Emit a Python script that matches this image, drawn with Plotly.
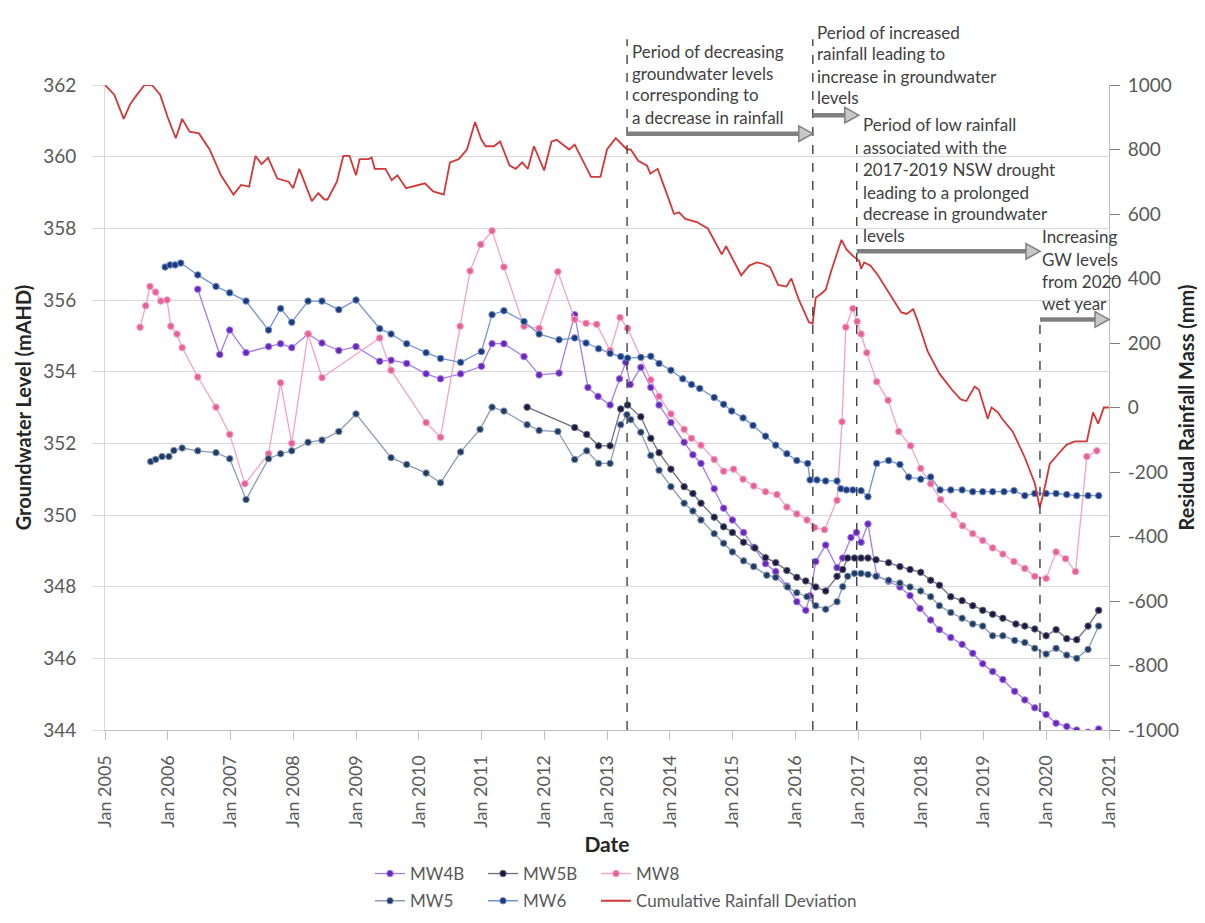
import plotly.graph_objects as go
import pandas as pd

# ---------------- data (decimal years) ----------------
mw4b_t = [2006.48, 2006.83, 2006.99, 2007.25, 2007.61, 2007.80, 2007.98, 2008.24, 2008.46, 2008.73,
          2009.00, 2009.38, 2009.56, 2009.81, 2010.12, 2010.35, 2010.67, 2011.00, 2011.17, 2011.36,
          2011.68, 2011.92, 2012.24, 2012.49, 2012.70, 2012.86, 2013.05, 2013.20, 2013.30, 2013.37,
          2013.54, 2013.70, 2013.83, 2014.02, 2014.23, 2014.37, 2014.50, 2014.71, 2014.86, 2015.00,
          2015.18, 2015.34, 2015.53, 2015.69, 2015.87, 2016.03, 2016.17, 2016.24, 2016.33, 2016.49,
          2016.67, 2016.76, 2016.89, 2016.98, 2017.05, 2017.16, 2017.30, 2017.49, 2017.67, 2017.83,
          2017.99, 2018.16, 2018.30, 2018.48, 2018.66, 2018.83, 2018.99, 2019.15, 2019.31, 2019.50,
          2019.66, 2019.82, 2020.00, 2020.16, 2020.33, 2020.49, 2020.67, 2020.84]
mw4b_v = [356.30, 354.48, 355.16, 354.53, 354.70, 354.78, 354.67, 355.05, 354.80, 354.59,
          354.70, 354.29, 354.32, 354.23, 353.94, 353.80, 353.94, 354.15, 354.78, 354.78,
          354.42, 353.91, 353.96, 355.59, 353.56, 353.31, 353.07, 353.80, 354.26, 353.64,
          354.12, 353.56, 353.07, 352.58, 352.03, 351.68, 351.44, 350.73, 350.19, 349.86,
          349.51, 349.10, 348.64, 348.42, 348.02, 347.58, 347.34, 347.75, 348.70, 349.16,
          348.53, 348.80, 349.37, 349.51, 349.24, 349.75, 348.30, 348.15, 347.99, 347.75,
          347.39, 347.07, 346.80, 346.58, 346.39, 346.14, 345.85, 345.63, 345.41, 345.08,
          344.84, 344.62, 344.43, 344.19, 344.10, 344.00, 343.94, 344.03]

mw5b_t = [2011.73, 2012.49, 2012.68, 2012.87, 2013.05, 2013.22, 2013.33, 2013.54, 2013.70, 2013.83,
          2014.02, 2014.23, 2014.37, 2014.50, 2014.71, 2014.86, 2015.00, 2015.18, 2015.36, 2015.53,
          2015.69, 2015.87, 2016.03, 2016.17, 2016.33, 2016.49, 2016.67, 2016.76, 2016.84, 2016.95,
          2017.05, 2017.16, 2017.29, 2017.49, 2017.67, 2017.83, 2018.00, 2018.16, 2018.30, 2018.48,
          2018.66, 2018.83, 2018.99, 2019.15, 2019.31, 2019.52, 2019.66, 2019.82, 2020.00, 2020.16,
          2020.33, 2020.49, 2020.67, 2020.84]
mw5b_v = [353.01, 352.44, 352.25, 351.93, 351.93, 352.96, 353.07, 352.74, 352.14, 351.74,
          351.28, 350.79, 350.60, 350.33, 349.94, 349.67, 349.51, 349.24, 349.08, 348.81,
          348.67, 348.45, 348.26, 348.16, 347.99, 347.88, 348.29, 348.48, 348.80, 348.80,
          348.80, 348.80, 348.75, 348.67, 348.56, 348.48, 348.40, 348.18, 348.04, 347.72,
          347.61, 347.47, 347.34, 347.23, 347.12, 346.96, 346.90, 346.82, 346.63, 346.80,
          346.55, 346.52, 346.90, 347.34]

mw8_t = [2005.56, 2005.65, 2005.72, 2005.81, 2005.89, 2005.99, 2006.05, 2006.15, 2006.23, 2006.48,
         2006.77, 2006.99, 2007.23, 2007.61, 2007.80, 2007.98, 2008.24, 2008.46, 2009.38, 2009.56,
         2010.12, 2010.35, 2010.66, 2010.82, 2010.99, 2011.17, 2011.36, 2011.68, 2011.92, 2012.22,
         2012.49, 2012.67, 2012.84, 2013.05, 2013.21, 2013.33, 2013.70, 2013.83, 2014.02, 2014.23,
         2014.35, 2014.50, 2014.71, 2014.86, 2015.02, 2015.17, 2015.34, 2015.53, 2015.71, 2015.87,
         2016.03, 2016.19, 2016.31, 2016.47, 2016.67, 2016.75, 2016.81, 2016.92, 2016.99, 2017.05,
         2017.14, 2017.30, 2017.48, 2017.65, 2017.84, 2018.00, 2018.16, 2018.32, 2018.53, 2018.67,
         2018.83, 2018.99, 2019.15, 2019.31, 2019.49, 2019.66, 2019.82, 2020.00, 2020.16, 2020.31,
         2020.47, 2020.65, 2020.81]
mw8_v = [355.24, 355.84, 356.38, 356.22, 355.97, 356.00, 355.27, 355.05, 354.67, 353.85,
         353.01, 352.25, 350.87, 351.71, 353.69, 352.00, 355.05, 353.83, 354.94, 354.04,
         352.58, 352.17, 355.27, 356.81, 357.55, 357.93, 356.92, 355.27, 355.21, 356.79,
         355.46, 355.35, 355.32, 354.59, 355.51, 355.21, 353.77, 353.31, 352.82, 352.39,
         352.14, 351.95, 351.55, 351.22, 351.28, 351.00, 350.81, 350.65, 350.57, 350.22,
         350.03, 349.86, 349.65, 349.59, 350.41, 352.60, 355.24, 355.76, 355.40, 355.05,
         354.53, 353.72, 353.20, 352.33, 351.93, 351.30, 350.87, 350.43, 350.00, 349.70,
         349.48, 349.29, 349.08, 348.91, 348.70, 348.51, 348.29, 348.23, 348.97, 348.78,
         348.42, 351.63, 351.79]

mw5_t = [2005.73, 2005.81, 2005.91, 2006.02, 2006.10, 2006.23, 2006.48, 2006.77, 2006.99, 2007.25,
         2007.61, 2007.80, 2007.98, 2008.24, 2008.46, 2008.73, 2009.00, 2009.56, 2009.81, 2010.12,
         2010.35, 2010.67, 2010.98, 2011.17, 2011.36, 2011.73, 2011.92, 2012.22, 2012.49, 2012.68,
         2012.87, 2013.05, 2013.22, 2013.32, 2013.38, 2013.54, 2013.70, 2013.83, 2014.02, 2014.23,
         2014.37, 2014.50, 2014.71, 2014.86, 2015.00, 2015.18, 2015.34, 2015.55, 2015.69, 2015.88,
         2016.03, 2016.19, 2016.33, 2016.49, 2016.67, 2016.76, 2016.84, 2016.95, 2017.05, 2017.16,
         2017.29, 2017.49, 2017.67, 2017.83, 2018.00, 2018.16, 2018.30, 2018.48, 2018.66, 2018.83,
         2018.99, 2019.15, 2019.31, 2019.50, 2019.66, 2019.82, 2020.00, 2020.16, 2020.33, 2020.49,
         2020.67, 2020.84]
mw5_v = [351.49, 351.55, 351.63, 351.63, 351.80, 351.87, 351.79, 351.74, 351.57, 350.43,
         351.57, 351.71, 351.79, 352.03, 352.09, 352.33, 352.82, 351.60, 351.41, 351.17,
         350.90, 351.76, 352.39, 353.01, 352.90, 352.52, 352.36, 352.33, 351.55, 351.79,
         351.44, 351.44, 352.52, 352.80, 352.66, 352.31, 351.66, 351.25, 350.79, 350.33,
         350.11, 349.86, 349.48, 349.21, 348.97, 348.72, 348.56, 348.32, 348.26, 347.99,
         347.83, 347.72, 347.47, 347.37, 347.58, 348.00, 348.29, 348.37, 348.37, 348.34,
         348.29, 348.18, 348.10, 347.99, 347.88, 347.72, 347.47, 347.28, 347.12, 346.96,
         346.90, 346.63, 346.63, 346.50, 346.44, 346.28, 346.12, 346.28, 346.09, 346.00,
         346.25, 346.90]

mw6_t = [2005.96, 2006.04, 2006.12, 2006.21, 2006.48, 2006.77, 2006.99, 2007.25, 2007.61, 2007.80,
         2007.98, 2008.24, 2008.46, 2008.73, 2009.00, 2009.38, 2009.56, 2009.81, 2010.12, 2010.35,
         2010.67, 2011.00, 2011.17, 2011.36, 2011.68, 2011.92, 2012.24, 2012.49, 2012.67, 2012.87,
         2013.05, 2013.22, 2013.33, 2013.54, 2013.70, 2013.83, 2014.02, 2014.21, 2014.35, 2014.48,
         2014.71, 2014.86, 2014.99, 2015.17, 2015.33, 2015.53, 2015.69, 2015.87, 2016.03, 2016.20,
         2016.24, 2016.35, 2016.49, 2016.67, 2016.73, 2016.82, 2016.92, 2017.05, 2017.16, 2017.30,
         2017.49, 2017.67, 2017.81, 2018.00, 2018.16, 2018.31, 2018.48, 2018.66, 2018.83, 2018.99,
         2019.15, 2019.33, 2019.49, 2019.66, 2019.82, 2020.00, 2020.16, 2020.33, 2020.49, 2020.67,
         2020.84]
mw6_v = [356.92, 356.98, 356.98, 357.03, 356.70, 356.38, 356.20, 355.97, 355.16, 355.76,
         355.38, 355.97, 355.97, 355.73, 356.00, 355.20, 355.05, 354.78, 354.53, 354.37,
         354.26, 354.56, 355.59, 355.70, 355.40, 355.05, 354.89, 354.94, 354.80, 354.64,
         354.51, 354.42, 354.38, 354.40, 354.43, 354.23, 354.04, 353.80, 353.64, 353.53,
         353.28, 353.09, 352.90, 352.71, 352.50, 352.20, 351.95, 351.71, 351.52, 351.44,
         350.98, 350.98, 350.95, 350.95, 350.73, 350.70, 350.70, 350.68, 350.51, 351.44,
         351.52, 351.41, 351.06, 351.00, 351.06, 350.70, 350.70, 350.70, 350.65, 350.65,
         350.65, 350.65, 350.68, 350.54, 350.60, 350.60, 350.60, 350.57, 350.54, 350.54,
         350.54]

rain_t = [2005.00, 2005.15, 2005.30, 2005.40, 2005.50, 2005.63, 2005.75, 2005.88, 2006.00, 2006.13,
          2006.23, 2006.35, 2006.50, 2006.67, 2006.85, 2007.05, 2007.17, 2007.30, 2007.40, 2007.50,
          2007.60, 2007.75, 2007.93, 2008.00, 2008.10, 2008.30, 2008.40, 2008.50, 2008.55, 2008.70,
          2008.80, 2008.90, 2009.00, 2009.06, 2009.20, 2009.25, 2009.30, 2009.47, 2009.57, 2009.66,
          2009.80, 2010.00, 2010.10, 2010.23, 2010.40, 2010.50, 2010.64, 2010.77, 2010.90, 2011.00,
          2011.07, 2011.20, 2011.30, 2011.45, 2011.55, 2011.65, 2011.74, 2011.84, 2012.00, 2012.12,
          2012.20, 2012.40, 2012.49, 2012.75, 2012.90, 2013.00, 2013.14, 2013.32, 2013.38, 2013.50,
          2013.64, 2013.69, 2013.81, 2013.94, 2014.07, 2014.15, 2014.25, 2014.43, 2014.61, 2014.83,
          2014.90, 2015.14, 2015.27, 2015.39, 2015.50, 2015.60, 2015.73, 2015.86, 2015.94, 2016.06,
          2016.22, 2016.28, 2016.33, 2016.43, 2016.49, 2016.58, 2016.68, 2016.74, 2016.82, 2016.92,
          2017.02, 2017.05, 2017.10, 2017.20, 2017.32, 2017.45, 2017.57, 2017.69, 2017.78, 2017.88,
          2017.94, 2018.11, 2018.30, 2018.50, 2018.64, 2018.73, 2018.86, 2018.93, 2019.07, 2019.13,
          2019.23, 2019.30, 2019.47, 2019.66, 2019.82, 2019.90, 2019.96, 2020.06, 2020.19, 2020.33,
          2020.46, 2020.65, 2020.75, 2020.83, 2020.92, 2021.00]
rain_v = [1000, 970, 895, 940, 967, 1000, 1000, 970, 900, 835,
          895, 855, 850, 800, 720, 660, 690, 685, 780, 755,
          775, 710, 700, 680, 740, 640, 665, 645, 645, 700,
          780, 780, 720, 770, 770, 775, 740, 740, 705, 720,
          680, 690, 695, 670, 660, 760, 770, 800, 885, 830,
          810, 810, 825, 750, 740, 760, 740, 810, 735, 825,
          830, 800, 815, 715, 715, 800, 835, 800, 800, 765,
          750, 725, 740, 670, 600, 605, 585, 575, 555, 475,
          500, 410, 440, 450, 445, 435, 380, 375, 400, 335,
          265, 260, 340, 355, 365, 425, 485, 520, 490, 470,
          455, 430, 450, 440, 410, 370, 330, 295, 290, 305,
          275, 175, 105, 55, 25, 20, 65, 55, -35, 0,
          -15, -35, -75, -155, -235, -310, -265, -175, -145, -115,
          -105, -105, -15, -50, 0, 0]

tick_years = list(range(2005, 2022))
tick_labels = [f"Jan {y}" for y in tick_years]
right_ticks = list(range(-1000, 1001, 200))
right_labels = [str(v) for v in right_ticks]

# event lines (decimal years) and annotation texts
event_years = [2013.32, 2016.28, 2016.98, 2019.90]
notes = [
    ["Period of decreasing", "groundwater levels", "corresponding to", "a decrease in rainfall"],
    ["Period of increased", "rainfall leading to", "increase in groundwater", "levels"],
    ["Period of low rainfall", "associated with the", "2017-2019 NSW drought",
     "leading to a prolonged", "decrease in groundwater", "levels"],
    ["Increasing", "GW levels", "from 2020", "wet year"],
]


def to_date(y):
    yr = int(y)
    d = pd.Timestamp(year=yr, month=1, day=1) + pd.Timedelta(days=(y - yr) * 365.25)
    return d.strftime("%Y-%m-%d")


def dates(ts):
    return [to_date(t) for t in ts]


# ---------------- layout geometry (pixels) ----------------
W, H = 1205, 923
L, R, T, B = 97, 104, 77, 183
PW, PH = W - L - R, H - T - B
X0_YEAR, X1_YEAR = 2005.0, 2021.0


def xp_year(y):
    return (y - X0_YEAR) / (X1_YEAR - X0_YEAR)


def xp_px(px):
    return (px - L) / PW


def yp_px(py):
    return (H - B - py) / PH


FONT = "Lato"
GREY = "#595959"

fig = go.Figure()

series = [
    ("MW4B", mw4b_t, mw4b_v, "#6a28b8", "#a27cf0", "legend"),
    ("MW5B", mw5b_t, mw5b_v, "#1c1a45", "#6e6e80", "legend"),
    ("MW8", mw8_t, mw8_v, "#e8609a", "#f3a3c3", "legend"),
    ("MW5", mw5_t, mw5_v, "#1f3c66", "#8a9bb3", "legend2"),
    ("MW6", mw6_t, mw6_v, "#1d3977", "#7393d3", "legend2"),
]

fig.add_trace(go.Scatter(
    x=dates(rain_t), y=rain_v, mode="lines", name="Cumulative Rainfall Deviation",
    line=dict(color="#d23838", width=1.8), yaxis="y2", legend="legend3"))

for i, (name, t, v, mcol, lcol, leg) in enumerate(series):
    fig.add_trace(go.Scatter(
        x=dates(t), y=v, mode="lines+markers", name=name, legend=leg,
        line=dict(color=lcol, width=1.3),
        marker=dict(color=mcol, size=6.5, line=dict(color=lcol, width=1)),
        legendrank=1000 + i))

shapes = []
# dashed event lines
tops = [yp_px(30), yp_px(30), yp_px(137), yp_px(323)]
for ey, top in zip(event_years, tops):
    shapes.append(dict(type="line", xref="paper", yref="paper",
                       x0=xp_year(ey), x1=xp_year(ey), y0=0, y1=top,
                       line=dict(color="#404040", width=1.4, dash="dash")))

# block arrows
arrows = [
    (xp_year(event_years[0]), xp_year(event_years[1]), 127),
    (xp_year(event_years[1]), xp_year(event_years[1]) + 46 / PW, 108),
    (xp_year(event_years[2]), xp_year(event_years[3]), 248),
    (xp_year(event_years[3]), 1.0, 318),
]
for xa, xb, py in arrows:
    head = 14 / PW
    yc = yp_px(py)
    shapes.append(dict(type="line", xref="paper", yref="paper",
                       x0=xa, x1=xb - head, y0=yc, y1=yc,
                       line=dict(color="#7f7f7f", width=4.5)))
    hh = 8 / PH
    path = (f"M {xb - head},{yc + hh} L {xb},{yc} L {xb - head},{yc - hh} Z")
    shapes.append(dict(type="path", xref="paper", yref="paper", path=path,
                       fillcolor="#c8c8c8", line=dict(color="#7f7f7f", width=1.5)))

annotations = []
text_pos = [(622, [43, 65, 87, 110]),
            (807, [23, 45, 68, 90]),
            (853, [118, 141, 164, 187, 209, 232]),
            (1032, [233, 256, 279, 302])]
for (px, ys), lines in zip(text_pos, notes):
    for py, txt in zip(ys, lines):
        annotations.append(dict(xref="paper", yref="paper", x=xp_px(px), y=yp_px(py),
                                xanchor="left", yanchor="middle", text=txt, showarrow=False,
                                font=dict(family=FONT, size=17, color="#404040")))

fig.update_layout(
    width=W, height=H, autosize=False,
    margin=dict(l=L, r=R, t=T, b=B, pad=0),
    paper_bgcolor="white", plot_bgcolor="white",
    font=dict(family=FONT, color=GREY),
    shapes=shapes, annotations=annotations,
    xaxis=dict(
        type="date", range=[to_date(X0_YEAR), to_date(X1_YEAR)],
        tickvals=[to_date(y) for y in tick_years], ticktext=tick_labels,
        tickangle=-90, ticks="outside", ticklen=9, tickcolor="#bfbfbf",
        showline=True, linecolor="#bfbfbf", linewidth=1, showgrid=False, zeroline=False,
        tickfont=dict(family=FONT, size=18, color=GREY), ticklabelstandoff=8,
        title=dict(text="<b>Date</b>", font=dict(family=FONT, size=21, color="#262626"), standoff=10),
    ),
    yaxis=dict(
        range=[344, 362], dtick=2, tick0=344,
        showgrid=True, gridcolor="#d9d9d9", gridwidth=1,
        ticks="outside", ticklen=12, tickcolor="#d9d9d9",
        showline=True, linecolor="#d9d9d9", zeroline=False,
        tickfont=dict(family=FONT, size=19, color=GREY), ticklabelstandoff=12,
        title=dict(text="<b>Groundwater Level (mAHD)</b>",
                   font=dict(family=FONT, size=20, color="#262626"), standoff=6),
    ),
    yaxis2=dict(
        range=[-1000, 1000], tickvals=right_ticks, ticktext=right_labels,
        overlaying="y", side="right",
        showgrid=False, zeroline=False, ticks="outside", ticklen=10, tickcolor="#7f7f7f",
        showline=True, linecolor="#bfbfbf",
        tickfont=dict(family=FONT, size=19, color=GREY), ticklabelstandoff=4,
        title=dict(text="<b>Residual Rainfall Mass (mm)</b>",
                   font=dict(family=FONT, size=20, color="#262626"), standoff=2),
    ),
    legend=dict(orientation="h", x=xp_px(362), y=yp_px(888), xanchor="left", yanchor="middle",
                entrywidth=68, entrywidthmode="pixels", bgcolor="rgba(0,0,0,0)",
                font=dict(family=FONT, size=17, color=GREY), traceorder="normal"),
    legend2=dict(orientation="h", x=xp_px(362), y=yp_px(916), xanchor="left", yanchor="middle",
                 entrywidth=68, entrywidthmode="pixels", bgcolor="rgba(0,0,0,0)",
                 font=dict(family=FONT, size=17, color=GREY), traceorder="normal"),
    legend3=dict(orientation="h", x=xp_px(362 + 226), y=yp_px(916), xanchor="left",
                 yanchor="middle", bgcolor="rgba(0,0,0,0)",
                 font=dict(family=FONT, size=17, color=GREY)),
)

fig.write_html("out.html")
